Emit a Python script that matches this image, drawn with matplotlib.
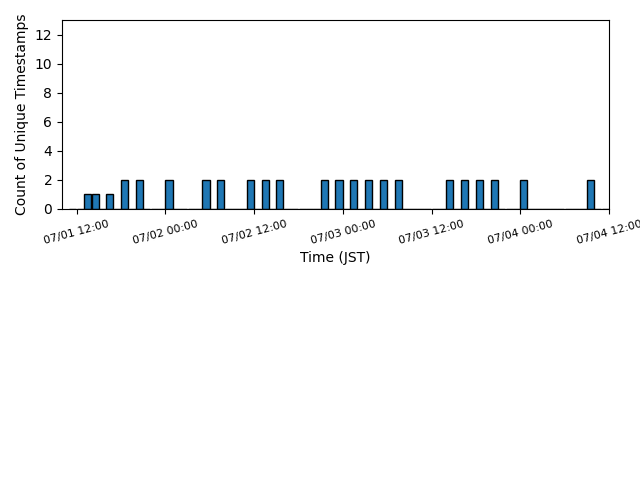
import pandas as pd
import matplotlib.pyplot as plt
import matplotlib.dates as mdates

# hours that had timestamps, and how many unique ones
hours = ['2024-07-01 13:00', '2024-07-01 14:00', '2024-07-01 16:00', '2024-07-01 18:00',
         '2024-07-01 20:00', '2024-07-02 00:00', '2024-07-02 05:00', '2024-07-02 07:00',
         '2024-07-02 11:00', '2024-07-02 13:00', '2024-07-02 15:00', '2024-07-02 21:00',
         '2024-07-02 23:00', '2024-07-03 01:00', '2024-07-03 03:00', '2024-07-03 05:00',
         '2024-07-03 07:00', '2024-07-03 14:00', '2024-07-03 16:00', '2024-07-03 18:00',
         '2024-07-03 20:00', '2024-07-04 00:00', '2024-07-04 09:00']
counts = [1, 1, 1, 2, 2, 2, 2, 2, 2, 2, 2, 2, 2, 2, 2, 2, 2, 2, 2, 2, 2, 2, 2]
start, end = '2024-07-01 11:00', '2024-07-04 12:00'

s = pd.Series(counts, index=pd.to_datetime(hours))
full = s.reindex(pd.date_range(start, end, freq='h'), fill_value=0)

fig = plt.figure(figsize=(6.4, 4.8), dpi=100)
ax = fig.add_axes([62/640, 1 - 209/480, (609 - 62)/640, (209 - 20)/480])
ax.bar(full.index, full.values, width=0.96/24, align='edge',
       color='#1f77b4', edgecolor='black')

ax.set_xlim(pd.Timestamp('2024-07-01 10:00'), pd.Timestamp(end))
ax.set_ylim(0, 13)
ax.set_yticks(range(0, 13, 2))
ax.xaxis.set_major_locator(mdates.HourLocator(byhour=[0, 12]))
ax.xaxis.set_major_formatter(mdates.DateFormatter('%m/%d %H:%M'))
plt.setp(ax.get_xticklabels(), rotation=15, fontsize=8)
ax.set_xlabel('Time (JST)')
ax.set_ylabel('Count of Unique Timestamps')

fig.savefig('out.png', dpi=100)
